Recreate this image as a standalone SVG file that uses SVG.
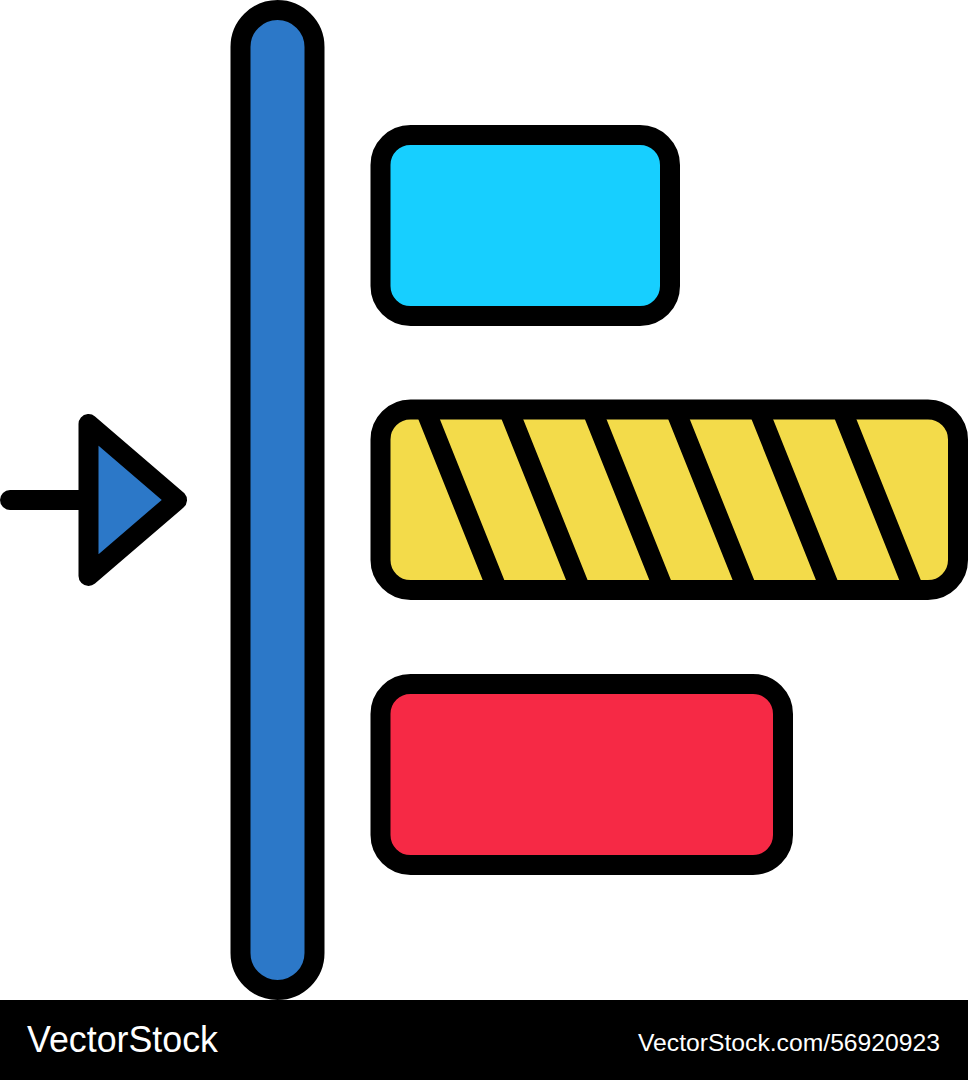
<svg xmlns="http://www.w3.org/2000/svg" width="968" height="1080" viewBox="0 0 968 1080">
<style>
.s{stroke:#000;stroke-width:20;stroke-linejoin:round;stroke-linecap:round}
.t{fill:#fff;font-family:"Liberation Sans",Arial,sans-serif}
</style>
<rect width="968" height="1080" fill="#fff"/>
<g id="bar"><rect class="s" x="240.500" y="10" width="74" height="980" rx="37" fill="#2c78c8"/></g>
<g id="box-top"><rect class="s" x="380.500" y="135" width="289.500" height="181" rx="30" fill="#17cfff"/></g>
<g id="box-middle">
<rect x="380.500" y="409.500" width="577.500" height="180.500" rx="30" fill="#f3db4a"/>
<g stroke="#000" stroke-width="20" fill="none">
<path d="M425 409 L497.500 590M508.300 409 L580.800 590M591.600 409 L664.100 590M674.900 409 L747.400 590M758.200 409 L830.700 590M841.500 409 L914 590"/>
</g>
<rect class="s" x="380.500" y="409.500" width="577.500" height="180.500" rx="30" fill="none"/>
</g>
<g id="box-bottom"><rect class="s" x="380.500" y="684" width="402.500" height="181" rx="30" fill="#f62945"/></g>
<g id="connectors"><path class="s" d="M10 500H88" fill="none"/></g>
<g id="arrow"><path class="s" d="M88.500 424V576L177 500Z" fill="#2c78c8"/></g>
<g id="footer">
<rect y="1000" width="968" height="80" fill="#000"/>
<text class="t" x="27" y="1052" font-size="36" textLength="191" lengthAdjust="spacingAndGlyphs">VectorStock</text>
<text class="t" x="638" y="1051" font-size="24" textLength="302" lengthAdjust="spacingAndGlyphs">VectorStock.com/56920923</text>
</g>
</svg>
